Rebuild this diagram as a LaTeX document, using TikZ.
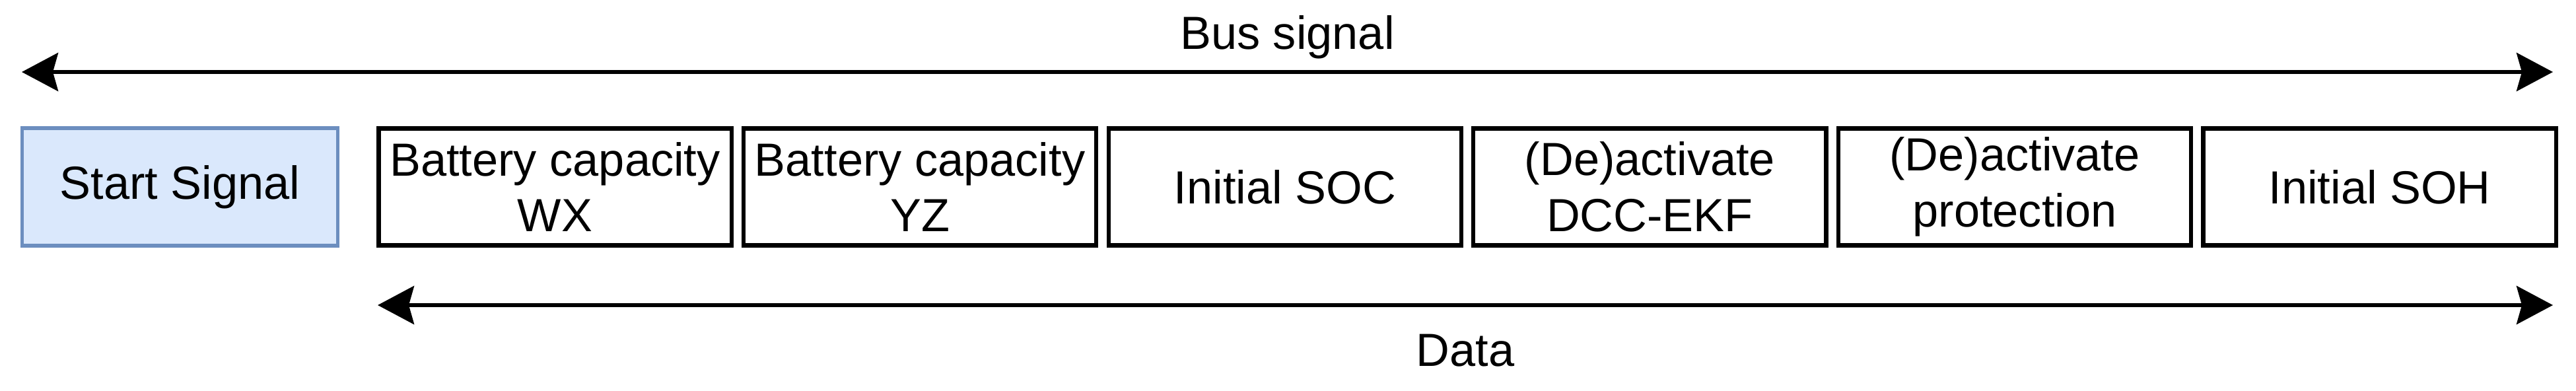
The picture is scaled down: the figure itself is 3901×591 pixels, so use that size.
\documentclass[tikz,border=0pt]{standalone}
\usepackage{fontspec}
\setmainfont{Liberation Sans}
\usetikzlibrary{positioning,arrows.meta}
\definecolor{startfill}{HTML}{DAE8FC}
\definecolor{startdraw}{HTML}{6C8EBF}

\begin{document}
\begin{tikzpicture}[x=0.01cm,y=-0.01cm]
    \tikzstyle{every node}+=[font=\fontsize{20}{24}\selectfont]
    \tikzstyle{field}=[draw=black, line width=1.8pt, minimum width=5.34cm, minimum height=1.77cm, inner sep=0pt, align=center]
    \tikzstyle{span}=[line width=1.6pt, {Stealth[length=0.55cm,width=0.58cm,inset=0.08cm]}-{Stealth[length=0.55cm,width=0.58cm,inset=0.08cm]}]
    \useasboundingbox (0,0) rectangle (3901,591);
    \node [draw=startdraw, fill=startfill, line width=1.5pt, minimum width=4.77cm, minimum height=1.78cm] (start) at (272.5,283) {Start Signal};
    \node [field] (capwx) at (840.5,283) {Battery capacity\\WX};
    \node [field, right=0.12cm of capwx] (capyz) {Battery capacity\\YZ};
    \node [field, right=0.12cm of capyz] (soc) {Initial SOC};
    \node [field, right=0.12cm of soc] (ekf) {(De)activate\\DCC-EKF};
    \node [field, right=0.12cm of ekf] (prot) {(De)activate\\protection};
    \node [field, right=0.12cm of prot] (soh) {Initial SOH};
    \coordinate (busl) at (33,109);
    \coordinate (busr) at (3866,109);
    \coordinate (datal) at (572,462);
    \coordinate (datar) at (3866,462);
    \draw [span] (busl) -- node [above=0.05cm] (buslabel) {Bus signal} (busr);
    \draw [span] (datal) -- node [below=0.3cm] (datalabel) {Data} (datar);
\end{tikzpicture}
\end{document}
